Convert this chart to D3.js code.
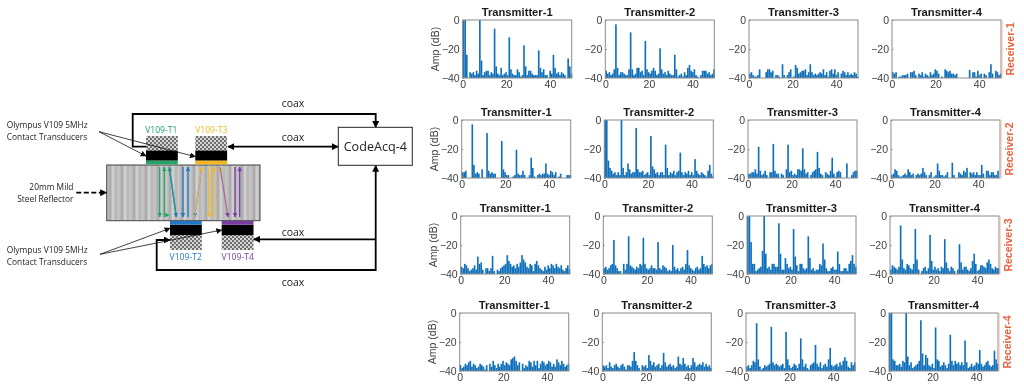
<!DOCTYPE html>
<html lang="en">
<head>
<meta charset="utf-8">
<title>Transducer setup and spectra</title>
<script src="https://d3js.org/d3.v7.min.js"></script>
<style>
html,body{margin:0;padding:0;background:#fff;}
svg{display:block;}
text{font-family:"Liberation Sans",Arial,sans-serif;}
.dia text{font-family:"Open Sans",sans-serif;}
</style>
</head>
<body>
<script type="text/javascript">
var w = 1024, h = 388;

var transmitters = ["Transmitter-1","Transmitter-2","Transmitter-3","Transmitter-4"];
var receivers = ["Receiver-1","Receiver-2","Receiver-3","Receiver-4"];
var xTicks = [0,20,40];
var yTicks = [0,-20,-40];
var binWidth = 0.75; // MHz per bar

// spectra in dB, one bar per bin
var r1t1 = [0,0,-24,-40,-36,-37,-36,-38,-35,-37, 0,-28,-38,-36,-35,-35,-38,-36,-37,-6, -32,-37,-38,-33,-38,-37,-36,-38,-12,-34, -37,-38,-38,-34,-36,-39,-38,-17.5,-32,-38, -35,-35,-37,-38,-38,-38,-21,-33,-36,-34, -38,-38,-40,-35,-37,-24,-33,-37,-36,-38, -36,-37,-38,-40,-26.5,-32,-37];
var r1t2 = [-35,-37,-36,-38,-37,-34,-3,-33,-38,-36, -36,-37,-38,-38,-34,-8.5,-34,-38,-37,-33, -33,-36,-35,-38,-14.5,-34,-36,-37,-35,-33, -35,-38,-37,-19.5,-34,-37,-36,-38,-35,-37, -38,-38,-24,-34,-39,-38,-37,-39,-36,-38, -33,-31,-35,-36,-34,-38,-39,-40,-38,-35, -35,-35,-37,-36,-38,-37,-34];
var r1t3 = [-37,-36,-38,-39,-39,-38,-34,-40,-40,-40, -36,-34,-34,-36,-35,-40,-38,-38,-39,-40, -30.5,-38,-40,-38,-36,-34,-40,-39,-31,-33, -37,-36,-35,-35,-34,-38,-36,-30.5,-36,-38, -37,-38,-37,-36,-37,-34,-38,-36,-39,-35, -34,-37,-34,-38,-36,-40,-37,-35,-36,-38, -36,-38,-37,-38,-36,-37,-39];
var r1t4 = [-36,-37,-36,-40,-39,-39,-38,-38,-38,-37, -40,-36,-36,-35,-38,-40,-37,-38,-36,-39, -37,-38,-39,-36,-38,-37,-34,-35,-37,-40, -39,-40,-34,-35,-36,-35,-37,-37,-38,-37, -40,-40,-40,-40,-40,-40,-40,-34.5,-40,-36, -36,-39,-35,-38,-37,-40,-37,-38,-40,-36, -30.5,-37,-40,-35,-36,-38,-37];
var r2t1 = [-36,-36,-35,-40,-40,-40,-3,-31,-37,-36, -37,-40,-34,-40,-40,-9,-35,-37,-36,-37, -37,-40,-40,-40,-14.5,-34,-36,-38,-38,-40, -40,-39,-38,-20.5,-37,-38,-38,-35,-38,-40, -40,-38,-26,-33,-39,-40,-38,-37,-38,-37, -37,-30,-37,-38,-35,-36,-38,-36,-40,-39, -37,-40,-40,-40,-38,-38,-38];
var r2t2 = [0,0,-28,-33,-35,-37,-36,-38,-36,-38, 0,-33,-38,-36,-30,-34,-37,-36,-36,-5.5, -34,-36,-36,-35,-38,-37,-36,-38,-11,-32, -34,-37,-36,-38,-36,-36,-38,-17,-33,-38, -36,-37,-35,-38,-36,-35,-22.5,-36,-38,-36, -37,-35,-38,-36,-38,-27,-35,-37,-38,-36, -37,-38,-39,-35,-31,-37,-39];
var r2t3 = [-37,-37,-36,-36,-34,-37,-18.5,-35,-38,-37, -35,-38,-40,-36,-36,-16.5,-35,-37,-37,-40, -37,-38,-40,-34,-17,-36,-35,-38,-37,-38, -34,-34,-35,-19.5,-34,-37,-36,-40,-38,-36, -35,-34,-22,-33,-37,-38,-40,-36,-37,-38, -35,-26,-37,-40,-36,-35,-36,-40,-40,-40, -30,-40,-40,-38,-36,-35,-35];
var r2t4 = [-38,-37,-34,-35,-38,-39,-39,-38,-37,-38, -34,-36,-38,-37,-40,-38,-37,-38,-37,-33, -36,-38,-40,-38,-36,-40,-39,-38,-30,-35, -38,-38,-39,-38,-36,-40,-40,-29.5,-38,-40, -40,-36,-37,-38,-35,-36,-33,-40,-36,-37, -36,-38,-36,-38,-38,-31,-37,-40,-35,-35, -38,-36,-36,-38,-38,-35,-40];
var r3t1 = [-35,-36,-33,-34,-36,-38,-37,-36,-34,-37, -28,-33,-32,-37,-40,-36,-36,-38,-36,-27.5, -38,-40,-37,-38,-36,-35,-34,-33,-27,-31, -33,-35,-34,-36,-33,-35,-32,-27,-30,-32, -35,-36,-33,-34,-38,-33,-31,-34,-36,-37, -38,-35,-37,-34,-36,-33,-34,-36,-33,-35, -36,-34,-37,-38,-36,-34,-37];
var r3t2 = [-36,-35,-37,-36,-34,-33,-16.5,-34,-36,-38, -38,-40,-33,-37,-33,-14,-34,-35,-36,-37, -35,-36,-33,-34,-15,-33,-36,-37,-36,-34, -36,-36,-37,-18,-36,-37,-34,-35,-36,-38, -37,-38,-20,-35,-37,-36,-38,-36,-35,-37, -33,-23.5,-34,-36,-37,-38,-36,-35,-37,-36, -27.5,-33,-35,-34,-36,-34,-33];
var r3t3 = [0,0,-18,-33,-33,-38,-37,-36,-35,-24, 0,-26,-36,-35,-37,-33,-33,-35,-35,-5, -26,-37,-37,-29,-33,-36,-35,-37,-9,-28, -34,-38,-33,-33,-36,-37,-36,-14,-29,-37, -36,-38,-37,-37,-33,-34,-19,-30,-36,-38, -38,-36,-35,-37,-37,-24.5,-33,-38,-38,-36, -36,-38,-33,-31,-27,-33,-35];
var r3t4 = [-37,-34,-35,-36,-37,-35,-6.5,-30,-36,-37, -33,-34,-36,-37,-33,-9,-30,-37,-40,-38, -36,-35,-38,-36,-13,-31,-37,-35,-37,-36, -38,-35,-36,-16,-32,-36,-38,-35,-36,-38, -40,-37,-19.5,-32,-37,-35,-35,-37,-38,-36, -31,-26,-33,-38,-37,-34,-34,-35,-36,-32, -30,-33,-36,-37,-35,-36,-36];
var r4t1 = [-36,-38,-37,-35,-36,-34,-33,-37,-35,-36, -38,-37,-35,-36,-37,-39,-36,-40,-35,-37, -33,-36,-38,-35,-37,-35,-33,-36,-34,-35, -36,-32,-31,-30,-33,-36,-34,-40,-35,-38, -36,-37,-33,-34,-37,-33,-36,-33,-38,-35, -33,-34,-36,-35,-33,-34,-37,-35,-37,-32, -34,-36,-33,-35,-37,-36,-35];
var r4t2 = [-36,-37,-36,-38,-34,-37,-38,-36,-35,-37, -38,-36,-35,-37,-39,-36,-36,-37,-33,-27, -33,-36,-38,-40,-36,-37,-36,-38,-29,-33, -36,-34,-37,-36,-35,-38,-36,-27.5,-34,-37, -36,-35,-37,-36,-38,-37,-30,-35,-36,-31, -35,-37,-36,-38,-36,-31,-34,-37,-36,-35, -36,-34,-37,-35,-37,-36,-38];
var r4t3 = [-37,-36,-38,-36,-33,-34,-7,-32,-37,-39, -38,-36,-37,-36,-35,-9.5,-34,-36,-35,-36, -37,-36,-35,-38,-13,-32,-36,-38,-37,-35, -36,-38,-35,-17.5,-32,-37,-35,-38,-39,-36, -35,-34,-22,-35,-37,-34,-38,-36,-35,-37, -32,-24,-36,-37,-36,-35,-37,-34,-36,-33, -30.5,-33,-37,-38,-34,-36,-34];
var r4t4 = [0,0,-32,-33,-36,-36,-35,-37,-33,-34, 0,-30,-36,-34,-38,-37,-36,-35,-33,-5, -28,-36,-29,-31,-36,-37,-35,-38,-10,-32, -33,-37,-36,-34,-36,-38,-35,-15,-33,-36, -33,-35,-34,-36,-34,-36,-19,-34,-38,-37, -35,-37,-36,-34,-35,-25.5,-35,-37,-36,-34, -33,-36,-37,-36,-26,-32,-35];
var spectra = [[r1t1,r1t2,r1t3,r1t4],[r2t1,r2t2,r2t3,r2t4],[r3t1,r3t2,r3t3,r3t4],[r4t1,r4t2,r4t3,r4t4]];

var rowTop = [20,120,216,313];
var rowShift = [0,-1,-2,-3];
var colLeft = [462.7,605.3,749,892];
var pw = 109, ph = 58;

var svg = d3.select("body").append("svg").attr("width",w).attr("height",h);
var defs = svg.append("defs");

// soft look of the downscaled original
defs.append("filter").attr("id","soft").append("feGaussianBlur").attr("stdDeviation",0.35);

var xScale = d3.scaleLinear().domain([0,50]).range([0,pw]);
var yScale = d3.scaleLinear().domain([-40,0]).range([ph,0]);
var barW = xScale(binWidth);

var charts = svg.append("g").attr("filter","url(#soft)");

spectra.forEach(function(row,ri){
  row.forEach(function(vals,ci){
    var g = charts.append("g")
      .attr("transform","translate("+(colLeft[ci]+rowShift[ri])+","+rowTop[ri]+")");

    g.selectAll("rect.bar").data(vals).enter().append("rect")
      .attr("class","bar")
      .attr("x",function(d,i){ return xScale(i*binWidth); })
      .attr("y",function(d){ return yScale(d); })
      .attr("width",barW)
      .attr("height",function(d){ return ph-yScale(d); })
      .attr("fill","#0c6fbb");

    g.append("rect").attr("width",pw).attr("height",ph)
      .attr("fill","none").attr("stroke","#8a8a8a").attr("stroke-width",1);

    var xa = g.append("g").attr("transform","translate(0,"+ph+")")
      .call(d3.axisBottom(xScale).tickValues(xTicks).tickSize(-1.5).tickPadding(3));
    var ya = g.append("g")
      .call(d3.axisLeft(yScale).tickValues(yTicks).tickSize(-1.5).tickPadding(3));
    [xa,ya].forEach(function(a){
      a.select(".domain").remove();
      a.selectAll("line").attr("stroke","#8a8a8a");
      a.selectAll("text").attr("font-size",10.5).attr("fill","#404040")
        .style("font-family",'"Liberation Sans",Arial,sans-serif');
    });

    g.append("text").attr("x",pw/2).attr("y",-4.5).attr("text-anchor","middle")
      .attr("font-size",11.2).attr("font-weight","bold").attr("fill","#1a1a1a")
      .text(transmitters[ci]);

    if(ci==0){
      g.append("text")
        .attr("transform","translate(-23.5,"+(ph/2)+") rotate(-90)")
        .attr("text-anchor","middle").attr("font-size",10.5).attr("fill","#404040")
        .text("Amp (dB)");
    }
    if(ci==3){
      g.append("line").attr("x1",pw+1).attr("x2",pw+1).attr("y1",0).attr("y2",ph)
        .attr("stroke","#f4b8a0").attr("stroke-width",1);
      g.append("text")
        .attr("transform","translate("+(pw+12.5)+","+(ph/2)+") rotate(-90)")
        .attr("text-anchor","middle").attr("font-size",10.5).attr("font-weight","bold")
        .attr("fill","#e8613c").text(receivers[ri]);
    }
  });
});

// ---- left: setup diagram ----
var dia = svg.append("g").attr("class","dia").attr("filter","url(#soft)");

function marker(id,color,size){
  defs.append("marker").attr("id",id).attr("viewBox","0 0 10 10").attr("refX",9).attr("refY",5)
    .attr("markerWidth",size).attr("markerHeight",size).attr("markerUnits","userSpaceOnUse")
    .attr("orient","auto-start-reverse")
    .append("path").attr("d","M0,0L10,5L0,10Z").attr("fill",color);
}
marker("aBlack","#000",7);
marker("aThin","#111",6);
marker("aGreen","#22a565",4.5);
marker("aBlue","#2178c4",4.5);
marker("aYellow","#f5b81f",4.5);
marker("aPurple","#7a3aa5",4.5);

// steel block stripes
var stripe = defs.append("linearGradient").attr("id","stripeGrad").attr("x1",0).attr("x2",1).attr("y1",0).attr("y2",0);
[[0,"#c9c9c9"],[0.3,"#a5a5a5"],[0.5,"#d9d9d9"],[0.75,"#b3b3b3"],[1,"#c9c9c9"]].forEach(function(s){
  stripe.append("stop").attr("offset",s[0]).attr("stop-color",s[1]);
});
var sp = defs.append("pattern").attr("id","steel").attr("patternUnits","userSpaceOnUse")
  .attr("x",106.7).attr("width",12).attr("height",60);
sp.append("rect").attr("width",12).attr("height",60).attr("fill","url(#stripeGrad)");

// checker backing
var cp = defs.append("pattern").attr("id","check").attr("patternUnits","userSpaceOnUse").attr("width",4).attr("height",4);
cp.append("rect").attr("width",4).attr("height",4).attr("fill","#d4d4d4");
cp.append("rect").attr("width",2).attr("height",2).attr("fill","#6e6e6e");
cp.append("rect").attr("x",2).attr("y",2).attr("width",2).attr("height",2).attr("fill","#6e6e6e");

dia.append("rect").attr("x",106.7).attr("y",165).attr("width",153.3).attr("height",55.7)
  .attr("fill","url(#steel)").attr("stroke","#444").attr("stroke-width",1);

function probe(x,top,color,label,lx,ly){
  var bw = 31.8;
  if(top){
    dia.append("rect").attr("x",x).attr("y",136).attr("width",bw).attr("height",15).attr("fill","url(#check)");
    dia.append("rect").attr("x",x).attr("y",150.7).attr("width",bw).attr("height",10).attr("fill","#000");
    dia.append("rect").attr("x",x).attr("y",160.7).attr("width",bw).attr("height",3.6).attr("fill",color);
  } else {
    dia.append("rect").attr("x",x).attr("y",235).attr("width",bw).attr("height",15).attr("fill","url(#check)");
    dia.append("rect").attr("x",x).attr("y",224.7).attr("width",bw).attr("height",10.4).attr("fill","#000");
    dia.append("rect").attr("x",x).attr("y",221).attr("width",bw).attr("height",3.7).attr("fill",color);
  }
  dia.append("text").attr("x",lx).attr("y",ly).attr("text-anchor","middle")
    .attr("font-size",8.6).attr("fill",color).text(label);
}
probe(146,true,"#22a565","V109-T1",161.3,132.5);
probe(195.3,true,"#f5b81f","V109-T3",211.3,132.5);
probe(170,false,"#2178c4","V109-T2",185.7,260);
probe(221.7,false,"#7a3aa5","V109-T4",237.7,260);

// wave paths inside the block
function wave(x1,y1,x2,y2,color,mk,dbl){
  var l = dia.append("line").attr("x1",x1).attr("y1",y1).attr("x2",x2).attr("y2",y2)
    .attr("stroke",color).attr("stroke-width",1.3).attr("marker-end","url(#"+mk+")");
  if(dbl) l.attr("marker-start","url(#"+mk+")");
}
var yT = 167, yB = 217;
wave(159.7,yT,159.7,yB,"#22a565","aGreen");
wave(164.3,yB,164.3,yT,"#22a565","aGreen");
wave(169.3,yB-2,169.3,yB-2,"none","aGreen");
wave(176.3,yB,169.3,yT,"#22a565","aGreen");
wave(169.3,yT,176.3,yB,"#2a8aa8","aBlue");
wave(183,yT,183,yB,"#2178c4","aBlue");
wave(188,yB,188,yT,"#2178c4","aBlue");
wave(201.7,yT,194.7,yB,"#6f8fc0","aBlue");
wave(194.7,yB,201.7,yT,"#e0b060","aYellow");
wave(208.7,yT,208.7,yB,"#f5b81f","aYellow");
wave(213.7,yB,213.7,yT,"#f5b81f","aYellow");
wave(228,yB,220,yT,"#e0a870","aYellow");
wave(220,yT,228,yB,"#a070a0","aPurple");
wave(235,yT,235,yB,"#7a3aa5","aPurple");
wave(239.7,yB,239.7,yT,"#7a3aa5","aPurple");

// coax runs
var line = d3.line();
function wire(pts,dbl){
  var p = dia.append("path").attr("d",line(pts)).attr("fill","none")
    .attr("stroke","#000").attr("stroke-width",1.8).attr("marker-end","url(#aBlack)");
  if(dbl) p.attr("marker-start","url(#aBlack)");
}
wire([[146,146.7],[132.7,146.7],[132.7,114],[375.7,114],[375.7,127.3]]);
wire([[228,146.7],[338,146.7]],true);
wire([[375.7,239.3],[253.7,239.3]]);
wire([[375.7,239.3],[375.7,165.5]]);
wire([[375.7,239.3],[375.7,270],[156.7,270],[156.7,240],[170,240]]);

dia.append("rect").attr("x",338.3).attr("y",127.3).attr("width",74).attr("height",38)
  .attr("fill","#fff").attr("stroke","#222").attr("stroke-width",1);
dia.append("text").attr("x",375.3).attr("y",151).attr("text-anchor","middle")
  .attr("font-size",12.6).attr("fill","#222").text("CodeAcq-4");

[[293,107],[293,140.5],[293,235.5],[293,286]].forEach(function(p){
  dia.append("text").attr("x",p[0]).attr("y",p[1]).attr("text-anchor","middle")
    .attr("font-size",10.5).attr("fill","#222").text("coax");
});

// callouts
function thin(x1,y1,x2,y2){
  dia.append("line").attr("x1",x1).attr("y1",y1).attr("x2",x2).attr("y2",y2)
    .attr("stroke","#111").attr("stroke-width",0.8).attr("marker-end","url(#aThin)");
}
thin(99,131.7,146,156);
thin(99,131.7,195.3,156.7);
thin(100,254.3,170,228.3);
thin(100,254.3,221.7,230);

function note(x,y,txt,anchor){
  dia.append("text").attr("x",x).attr("y",y).attr("text-anchor",anchor||"start")
    .attr("font-size",8.4).attr("fill","#222").text(txt);
}
note(6.7,128.2,"Olympus V109 5MHz");
note(6.7,140,"Contact Transducers");
note(6.7,252.5,"Olympus V109 5MHz");
note(6.7,264.5,"Contact Transducers");
note(73.5,189.5,"20mm Mild","end");
note(73.5,202,"Steel Reflector","end");

dia.append("line").attr("x1",76.3).attr("y1",192.7).attr("x2",106.5).attr("y2",192.7)
  .attr("stroke","#000").attr("stroke-width",1.8).attr("stroke-dasharray","5,2.5")
  .attr("marker-end","url(#aBlack)");
</script>
</body>
</html>
